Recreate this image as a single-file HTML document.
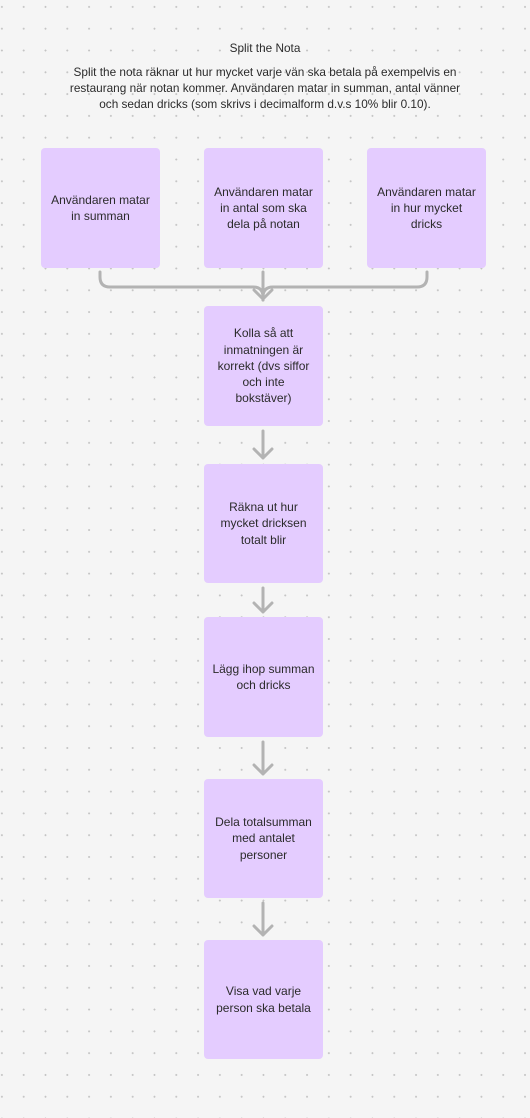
<!DOCTYPE html>
<html><head><meta charset="utf-8"><style>
body{margin:0;width:530px;height:1118px;background:#f5f5f5;position:relative;overflow:hidden;font-family:"Liberation Sans",sans-serif;color:#2b2b2b;
background-image:radial-gradient(circle,#c4c4c4 0.8px,transparent 1.1px);background-size:21.8px 21.8px;background-position:-9px -4px;}
.t{position:absolute;left:0;width:530px;text-align:center;font-size:11.8px;line-height:16px}
.b{position:absolute;width:119px;height:120px;background:#e4ccff;border-radius:4px;display:flex;align-items:center;justify-content:center;text-align:center;font-size:12px;line-height:16.3px;box-sizing:border-box;padding:0 4px;white-space:nowrap}
svg{position:absolute;left:0;top:0}
</style></head><body>
<div class="t" style="top:40px">Split the Nota</div>
<div class="t" style="top:64px">Split the nota räknar ut hur mycket varje vän ska betala på exempelvis en<br>restaurang när notan kommer. Användaren matar in summan, antal vänner<br>och sedan dricks (som skrivs i decimalform d.v.s 10% blir 0.10).</div>
<div class="b" style="left:41px;top:148px">Användaren matar<br>in summan</div>
<div class="b" style="left:204px;top:148px">Användaren matar<br>in antal som ska<br>dela på notan</div>
<div class="b" style="left:367px;top:148px">Användaren matar<br>in hur mycket<br>dricks</div>
<div class="b" style="left:204px;top:306px">Kolla så att<br>inmatningen är<br>korrekt (dvs siffor<br>och inte<br>bokstäver)</div>
<div class="b" style="left:204px;top:464px;height:119px">Räkna ut hur<br>mycket dricksen<br>totalt blir</div>
<div class="b" style="left:204px;top:617px">Lägg ihop summan<br>och dricks</div>
<div class="b" style="left:204px;top:779px;height:119px">Dela totalsumman<br>med antalet<br>personer</div>
<div class="b" style="left:204px;top:940px;height:119px">Visa vad varje<br>person ska betala</div>
<svg width="530" height="1118" fill="none" stroke="#b3b3b3" stroke-width="3" stroke-linecap="round" stroke-linejoin="round">
<path d="M100 272v5q0 10 10 10h143q10 0 10 10v3"/>
<path d="M427 272v5q0 10-10 10H273q-10 0-10 10v3"/>
<path d="M263 272v28"/>
<path d="M254 290l9 9 9-9"/>
<path d="M263 431v27M254 449l9 9 9-9"/>
<path d="M263 588v24M254 603l9 9 9-9"/>
<path d="M263 742v32M254 765l9 9 9-9"/>
<path d="M263 903v32M254 926l9 9 9-9"/>
</svg>
</body></html>
